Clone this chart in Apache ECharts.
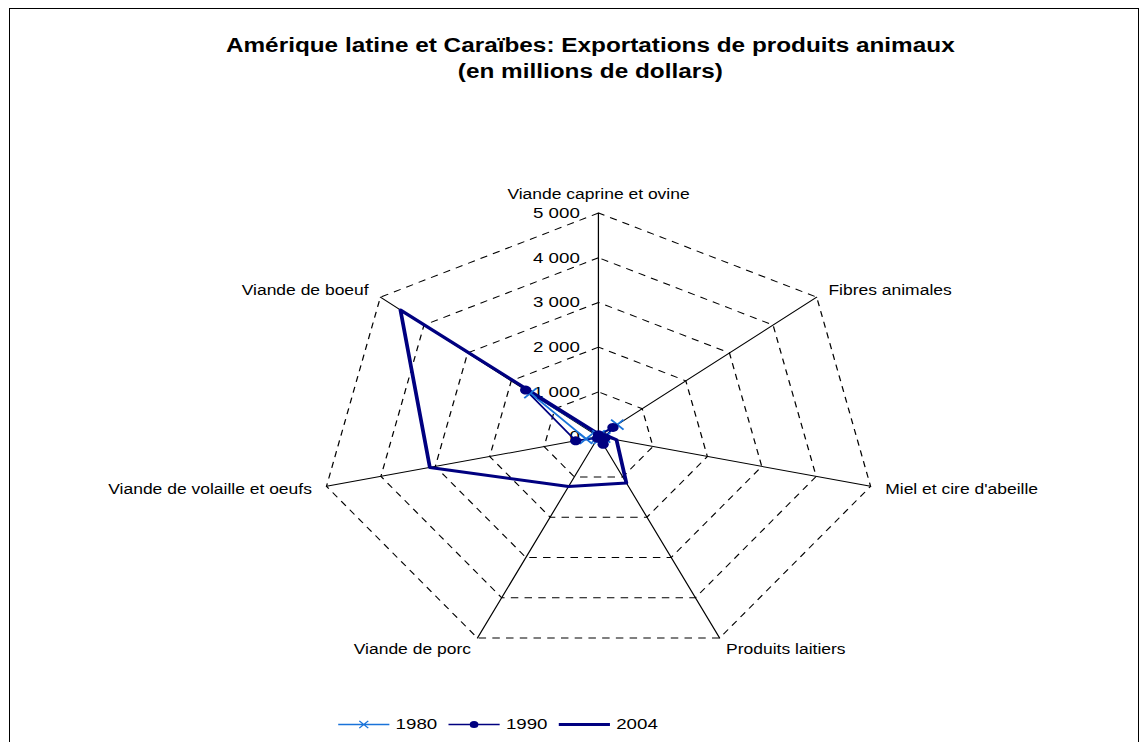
<!DOCTYPE html>
<html>
<head>
<meta charset="utf-8">
<title>Exportations de produits animaux</title>
<script src="https://cdn.jsdelivr.net/npm/echarts@6/dist/echarts.min.js"></script>
<style>
  html, body { margin: 0; padding: 0; background: #fff; overflow: hidden; }
  #frame { position: absolute; left: 9px; top: 8px; width: 1130px; height: 800px; border: 1px solid #000; box-sizing: border-box; }
  /* the reference image is stretched horizontally, text included */
  #chart { position: absolute; left: 0; top: 0; width: 920px; height: 742px; transform: scaleX(1.248); transform-origin: 0 0; }
</style>
</head>
<body>
<div id="frame"></div>
<div id="chart"></div>
<script>
// indicators in ECharts order (counter-clockwise from the top)
const categories = [
  'Viande caprine et ovine',
  'Viande de boeuf',
  'Viande de volaille et oeufs',
  'Viande de porc',
  'Produits laitiers',
  "Miel et cire d'abeille",
  'Fibres animales',
]
const years = ['1980', '1990', '2004']
const values1980 = [30, 1560, 230, 20, 60, 100, 430]
const values1990 = [40, 1670, 420, 40, 190, 120, 330]
const values2004 = [60, 4540, 3100, 1240, 1150, 330, 100]
const axisMax = 5000

const FONT = '"Liberation Sans", Arial, sans-serif'
const NAVY = '#000080'
const BLUE = '#1a73d9'

// thousands with a space, like the source
const fmt = (v) => String(v).replace(/\B(?=(\d{3})+(?!\d))/g, ' ')

// excel-like legend keys: line + marker (box 41 x 12)
const BOX = 'M0,0 M41,12 '
const ICON_1980 = 'path://' + BOX +
  'M0,5.3 H41 V6.7 H0 Z ' +
  'M16.5,2.8 L17.3,2 L24.5,9.2 L23.7,10 Z ' +
  'M23.7,2 L24.5,2.8 L17.3,10 L16.5,9.2 Z'
const ICON_1990 = 'path://' + BOX +
  'M0,5.3 H41 V6.7 H0 Z ' +
  'M24,6 A3.5,3.5 0 1 1 17,6 A3.5,3.5 0 1 1 24,6 Z'
const ICON_2004 = 'path://' + BOX + 'M0,4.5 H41 V7.5 H0 Z'

const chart = echarts.init(document.getElementById('chart'), null, { renderer: 'svg' })

const option = {
  animation: false,
  title: {
    text: 'Amérique latine et Caraïbes: Exportations de produits animaux\n(en millions de dollars)',
    left: 468,
    top: 27,
    textAlign: 'center',
    textStyle: {
      fontFamily: FONT,
      fontSize: 19.5,
      fontWeight: 'bold',
      color: '#000',
      lineHeight: 26,
    },
  },
  legend: {
    data: [
      { name: '1980', icon: ICON_1980, itemStyle: { color: BLUE, borderWidth: 0 } },
      { name: '1990', icon: ICON_1990, itemStyle: { color: NAVY, borderWidth: 0 } },
      { name: '2004', icon: ICON_2004, itemStyle: { color: NAVY, borderWidth: 0 } },
    ],
    left: 271,
    top: 717,
    padding: 0,
    itemWidth: 41,
    itemHeight: 12,
    itemGap: 9,
    textStyle: { fontFamily: FONT, fontSize: 15, color: '#000' },
  },
  radar: {
    center: [479.6, 436.6],
    radius: 223.6,
    shape: 'polygon',
    splitNumber: 5,
    nameGap: 12,
    axisName: { color: '#000', fontFamily: FONT, fontSize: 14 },
    axisLine: { lineStyle: { color: '#000', width: 1 } },
    splitLine: { lineStyle: { color: '#000', width: 1, type: [6, 5] } },
    splitArea: { show: false },
    axisLabel: { show: false },
    indicator: categories.map((name, i) => {
      const ind = { name: name, min: 0, max: axisMax }
      if (i === 0) {
        ind.axisLabel = {
          show: true,
          color: '#000',
          fontFamily: FONT,
          fontSize: 15,
          margin: 15,
          formatter: (v) => fmt(v),
        }
      }
      return ind
    }),
  },
  series: [
    {
      type: 'radar',
      data: [
        {
          name: '1980',
          value: values1980,
          symbol: 'path://M0,0L10,10M10,0L0,10',
          symbolSize: 10,
          lineStyle: { color: BLUE, width: 1.5 },
          itemStyle: { color: 'none', borderColor: BLUE, borderWidth: 1.5 },
        },
        {
          name: '1990',
          value: values1990,
          symbol: 'circle',
          symbolSize: 9,
          lineStyle: { color: NAVY, width: 1.5 },
          itemStyle: { color: NAVY },
        },
        {
          name: '2004',
          value: values2004,
          symbol: 'none',
          lineStyle: { color: NAVY, width: 3 },
          itemStyle: { color: NAVY },
        },
      ],
    },
  ],
}

chart.setOption(option)
</script>
</body>
</html>
